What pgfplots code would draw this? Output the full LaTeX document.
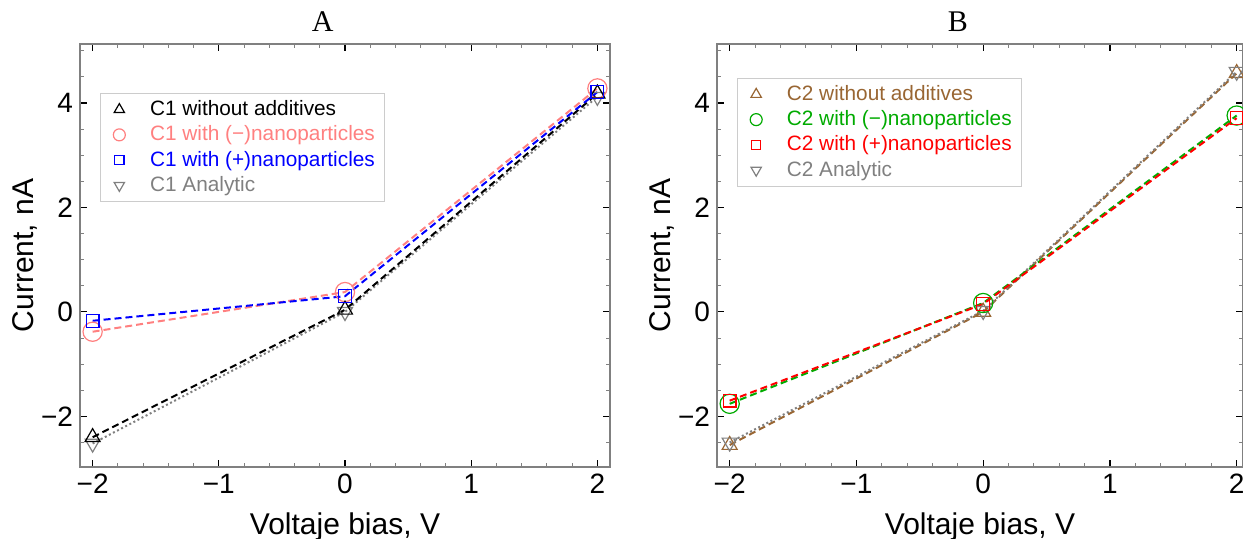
\documentclass[border=0pt]{standalone}
\usepackage{fontspec}
\setmainfont{Liberation Sans}
\newfontfamily\titlefont{Liberation Serif}
\usepackage{pgfplots}
\pgfplotsset{compat=1.18}

\definecolor{cpink}{rgb}{1,0.5,0.5}
\definecolor{cbrown}{rgb}{0.6,0.4,0.2}
\definecolor{cgreen}{rgb}{0,0.67,0}
\definecolor{mgray}{rgb}{0.5,0.5,0.5}

% common look of both panels (1px of the reference = 0.5pt)
\pgfplotsset{
  ivpanel/.style={
    scale only axis, height=211.5pt,
    anchor=south west,
    xmin=-2.1, ymin=-2.97, ymax=5.13,
    xtick={-2,-1,0,1,2}, xticklabels={−2,−1,0,1,2},
    ytick={-2,0,2,4}, yticklabels={−2,0,2,4},
    minor xtick={-1.8,-1.6,-1.4,-1.2,-0.8,-0.6,-0.4,-0.2,0.2,0.4,0.6,0.8,1.2,1.4,1.6,1.8},
    minor ytick={-2.5,-1.5,-1,-0.5,0.5,1,1.5,2.5,3,3.5,4.5,5},
    tick align=inside,
    major tick length=3.5pt, minor tick length=2pt,
    major tick style={black, line width=0.6pt},
    minor tick style={mgray, line width=0.5pt},
    axis line style={mgray, line width=0.9pt},
    ticklabel style={font=\fontsize{14}{16}\selectfont},
    label style={font=\fontsize{15}{17}\selectfont},
    xlabel={Voltaje bias, V}, ylabel={Current, nA},
    xlabel style={at={(axis description cs:0.5,-0.142)}, anchor=center},
    ylabel style={at={(axis description cs:-0.104,0.5)}, anchor=center},
    every axis title shift=0pt,
    title style={at={(axis description cs:0.458,1.052)}, anchor=center,
                 font=\titlefont\fontsize{15}{17}\selectfont},
    legend cell align=left,
    legend style={anchor=north west, draw=black!20, line width=0.5pt,
                  font=\fontsize{10.4}{12}\selectfont, row sep=-0.4pt,
                  inner xsep=3pt, inner ysep=1.5pt},
    every axis plot/.append style={line width=1pt},
  },
  dsh/.style={dash pattern=on 3.5pt off 2pt},
  dtt/.style={dash pattern=on 1pt off 1.3pt},
  lgmark/.style={legend image code/.code={
      \draw[##1] plot coordinates {(6pt,0pt)};
      \path (0pt,0pt) (19pt,0pt);}},
}

\begin{document}
\begin{tikzpicture}

% ---------- panel A ----------
\begin{axis}[ivpanel, at={(40pt,36pt)}, width=265pt, xmax=2.1, title={A},
  legend style={at={(0.038,0.884)}}]
\addlegendimage{lgmark, only marks, mark=triangle, mark size=3pt, black, line width=0.6pt}
\addlegendentry{\textcolor{black}{C1 without additives}}
\addlegendimage{lgmark, only marks, mark=o, mark size=3pt, cpink, line width=0.6pt}
\addlegendentry{\textcolor{cpink}{C1 with (−)nanoparticles}}
\addlegendimage{lgmark, only marks, mark=square, mark size=2.3pt, draw=blue, line width=0.7pt}
\addlegendentry{\textcolor{blue}{C1 with (+)nanoparticles}}
\addlegendimage{lgmark, only marks, mark=triangle, mark size=3pt, mark options={rotate=180}, mgray, line width=0.6pt}
\addlegendentry{\textcolor{mgray}{C1 Analytic}}

\addplot[forget plot, mgray, dtt, mark=triangle, mark size=4.3pt,
  mark options={solid, rotate=180, line width=0.6pt}]
  coordinates {(-2,-2.52) (0,0.0) (2,4.12)};
\addplot[forget plot, cpink, dsh, mark=o, mark size=4.8pt,
  mark options={solid, line width=0.6pt}]
  coordinates {(-2,-0.38) (0,0.38) (2,4.28)};
\addplot[forget plot, black, dsh, mark=triangle, mark size=4.3pt,
  mark options={solid, line width=0.6pt}]
  coordinates {(-2,-2.40) (0,0.04) (2,4.18)};
\addplot[forget plot, blue, dsh, mark=square, mark size=3.2pt,
  mark options={solid, line width=0.6pt}]
  coordinates {(-2,-0.17) (0,0.30) (2,4.21)};
\end{axis}

% ---------- panel B ----------
\begin{axis}[ivpanel, at={(358.5pt,36pt)}, width=263pt, xmax=2.05, title={B},
  legend style={at={(0.038,0.92)}}]
\addlegendimage{lgmark, only marks, mark=triangle, mark size=3pt, cbrown, line width=0.6pt}
\addlegendentry{\textcolor{cbrown}{C2 without additives}}
\addlegendimage{lgmark, only marks, mark=o, mark size=3pt, cgreen, line width=0.6pt}
\addlegendentry{\textcolor{cgreen}{C2 with (−)nanoparticles}}
\addlegendimage{lgmark, only marks, mark=square, mark size=2.3pt, red, line width=0.7pt}
\addlegendentry{\textcolor{red}{C2 with (+)nanoparticles}}
\addlegendimage{lgmark, only marks, mark=triangle, mark size=3pt, mark options={rotate=180}, mgray, line width=0.6pt}
\addlegendentry{\textcolor{mgray}{C2 Analytic}}

\addplot[forget plot, cbrown, dsh, mark=triangle, mark size=4.3pt,
  mark options={solid, line width=0.6pt}]
  coordinates {(-2,-2.55) (0,0.0) (2,4.57)};
\addplot[forget plot, mgray, dtt, mark=triangle, mark size=4.3pt,
  mark options={solid, rotate=180, line width=0.6pt}]
  coordinates {(-2,-2.50) (0,0.02) (2,4.60)};
\addplot[forget plot, cgreen, dsh, mark=o, mark size=4.8pt,
  mark options={solid, line width=0.6pt}]
  coordinates {(-2,-1.76) (0,0.17) (2,3.76)};
\addplot[forget plot, red, dsh, mark=square, mark size=3.2pt,
  mark options={solid, line width=0.6pt}]
  coordinates {(-2,-1.70) (0,0.15) (2,3.71)};
\end{axis}

\pgfresetboundingbox
\useasboundingbox (0,0) rectangle (621.5pt,269.5pt);
\end{tikzpicture}
\end{document}
